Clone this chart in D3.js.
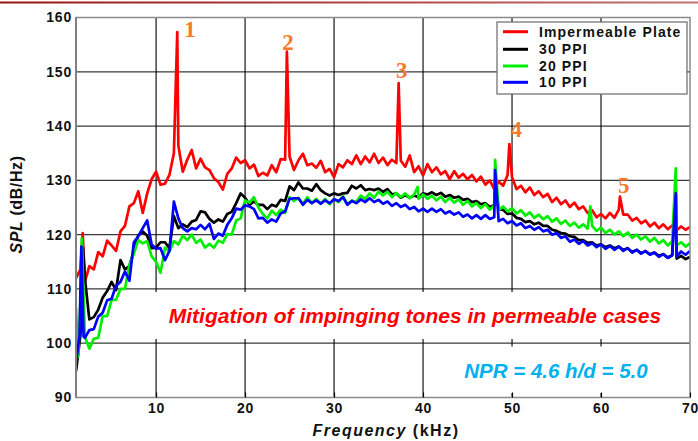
<!DOCTYPE html>
<html><head><meta charset="utf-8">
<script src="https://cdn.jsdelivr.net/npm/d3@7"></script>
<style>html,body{margin:0;padding:0;background:#fff;overflow:hidden}</style>
</head><body>
<svg id="chart" width="698" height="441"></svg>
<script>
// ---------- DATA ----------
const freqKHz = [
  1,1.5,2,2.5,3,3.5,4,4.5,5,5.5,
  6,6.5,7,7.5,8,8.5,9,9.5,10,10.5,
  11,11.5,12,12.5,13,13.5,14,14.5,15,15.5,
  16,16.5,17,17.5,18,18.5,19,19.5,20,20.5,
  21,21.5,22,22.5,23,23.5,24,24.5,25,25.5,
  26,26.5,27,27.5,28,28.5,29,29.5,30,30.5,
  31,31.5,32,32.5,33,33.5,34,34.5,35,35.5,
  36,36.5,37,37.5,38,38.5,39,39.5,40,40.5,
  41,41.5,42,42.5,43,43.5,44,44.5,45,45.5,
  46,46.5,47,47.5,48,48.5,49,49.5,50,50.5,
  51,51.5,52,52.5,53,53.5,54,54.5,55,55.5,
  56,56.5,57,57.5,58,58.5,59,59.5,60,60.5,
  61,61.5,62,62.5,63,63.5,64,64.5,65,65.5,
  66,66.5,67,67.5,68,68.5,69,69.5,70
];
const impermeablePlate = [
  112.0,113.6,111.3,114.2,113.6,116.8,116.0,118.9,118.0,117.0,
  120.6,121.6,125.2,125.8,128.0,124.0,127.6,130.2,131.6,129.2,
  129.4,131.0,135.0,136.4,131.6,133.8,135.6,132.2,134.0,132.4,
  131.9,130.4,129.7,128.3,131.2,132.2,134.2,133.2,133.7,132.2,
  132.9,130.8,131.4,130.9,132.8,131.5,133.9,133.8,134.4,131.9,
  133.7,134.9,132.8,133.1,132.3,133.6,131.5,132.1,130.6,133.0,
  132.4,133.7,133.0,134.6,133.0,134.4,133.3,134.9,133.2,134.2,
  132.8,133.8,133.2,133.6,132.5,134.6,131.5,132.6,130.9,133.0,
  131.5,132.4,131.1,131.7,130.2,131.7,130.5,131.2,130.2,131.0,
  129.8,130.7,129.2,130.0,128.4,129.8,129.0,131.0,130.6,128.4,
  129.0,127.8,128.7,127.3,128.0,126.9,127.5,126.0,126.8,125.6,
  126.3,125.1,125.9,124.7,125.2,124.0,124.5,123.2,123.8,123.0,
  124.0,123.1,124.6,123.7,123.7,122.6,123.1,122.1,122.6,121.5,
  122.2,121.2,121.9,121.0,121.7,120.8,121.5,120.9,121.4
];
const impermeableTones = [[1.75,120.3],[12.38,157.3],[24.7,153.7],[37.26,147.9],[49.7,136.7],[62.13,127.0]];

const ppi30 = [
  94.8,101.5,112.0,104.4,104.8,106.2,108.4,109.6,111.3,109.8,
  115.3,113.6,114.2,117.0,119.9,120.6,119.8,117.5,117.6,118.6,
  118.6,117.5,123.4,121.2,121.9,121.4,122.4,122.7,124.3,124.1,
  122.9,122.2,122.8,122.4,123.8,124.2,125.8,127.6,126.8,125.5,
  126.1,125.5,125.5,124.7,125.5,125.2,126.4,126.2,128.9,128.2,
  129.6,128.5,128.5,128.1,129.3,128.2,127.6,127.2,127.6,127.3,
  127.6,127.7,129.0,128.5,129.1,128.2,128.4,128.2,128.5,127.9,
  128.4,127.4,127.6,126.8,127.3,126.8,127.2,126.9,127.6,127.4,
  127.8,127.3,127.7,127.0,127.3,126.8,127.0,126.4,126.6,126.0,
  126.2,125.6,125.8,125.1,125.4,124.6,124.6,123.8,123.9,123.1,
  122.9,122.3,122.5,121.9,122.2,121.6,121.6,120.9,120.7,120.3,
  120.2,119.7,119.6,119.0,119.0,118.5,118.6,118.0,118.2,117.7,
  118.0,117.5,117.8,117.2,117.5,116.8,117.2,116.6,116.9,116.4,
  116.7,116.1,116.4,115.8,116.2,115.6,116.1,115.5,115.9
];
const ppi30Tones = [[1.8,117.5],[48.1,130.0],[68.4,129.0]];

const ppi20 = [
  106.5,108.0,101.2,99.0,100.8,101.0,105.0,105.0,108.0,108.0,
  110.0,110.0,114.5,116.5,119.0,118.4,118.8,116.0,115.0,113.0,
  117.6,116.9,118.8,118.2,119.8,119.0,120.0,118.5,119.1,117.6,
  118.3,117.6,118.9,118.5,120.1,120.0,122.6,123.0,126.3,125.9,
  126.9,125.0,123.8,123.0,124.4,123.6,124.6,124.0,126.9,126.2,
  126.8,125.7,126.9,125.8,126.6,125.7,126.6,125.6,126.6,126.0,
  127.1,125.6,126.3,126.0,127.2,126.6,127.6,126.8,127.9,127.2,
  127.9,126.9,127.7,126.9,127.6,126.7,127.4,126.6,127.4,126.6,
  127.2,126.3,127.0,126.0,126.8,125.9,126.5,125.5,126.2,125.2,
  125.8,124.9,125.6,124.6,125.4,124.5,125.2,124.3,124.9,123.9,
  124.5,123.5,124.1,123.1,123.7,122.8,123.4,122.4,123.0,122.0,
  122.6,121.6,122.2,121.3,121.9,121.1,121.6,120.7,121.3,120.3,
  120.9,120.0,120.6,119.7,120.4,119.4,120.0,119.1,119.7,118.7,
  119.4,118.4,119.0,118.0,118.8,118.0,118.6,117.8,118.4
];
const ppi20Tones = [[1.25,97.5],[1.65,119.3],[39.4,128.8],[48.1,133.8],[58.8,125.2],[68.4,132.2]];

const ppi10 = [
  96.3,110.0,101.0,102.4,102.6,104.9,105.6,107.9,108.2,110.6,
  111.3,113.2,111.5,118.6,119.7,121.2,122.6,118.2,117.4,117.5,
  115.3,117.0,126.1,123.0,121.2,120.6,121.2,121.0,121.8,121.0,
  122.0,119.2,120.2,119.8,121.8,123.0,124.8,124.6,125.4,125.2,
  124.7,123.0,123.1,122.2,122.8,122.4,123.9,124.3,126.6,126.7,
  126.7,125.5,126.4,125.8,126.3,125.7,126.3,125.8,126.5,126.2,
  126.9,125.5,126.2,125.8,126.5,126.0,126.7,126.0,126.4,125.7,
  126.1,125.3,125.8,125.1,125.5,124.7,125.1,124.3,124.8,124.2,
  124.8,124.2,124.7,123.9,124.3,123.7,124.1,123.3,123.7,123.0,
  123.6,122.9,123.6,122.9,123.2,122.5,122.9,122.1,122.5,121.7,
  122.1,121.2,121.6,120.9,121.4,120.6,120.9,120.0,120.3,119.4,
  119.7,118.7,119.1,118.3,118.8,118.0,118.4,117.7,118.2,117.4,
  117.9,117.2,117.8,117.0,117.5,116.7,117.2,116.5,117.0,116.3,
  116.7,115.9,116.4,115.7,116.2,116.0,116.9,116.3,117.0
];
const ppi10Tones = [[1.4,101.5],[1.6,117.8],[1.85,101.2],[48.1,131.9],[68.4,127.6]];

const seriesNames = ["Impermeable Plate","30 PPI","20 PPI","10 PPI"];
const seriesColors = ["#ff0000","#000000","#00ee00","#0000ff"];
const xTicks = [10,20,30,40,50,60,70];
const yTicks = [90,100,110,120,130,140,150,160];
const toneLabels = ["1","2","3","4","5"];
const toneLabelF = [13.81,24.82,37.6,50.48,62.55];
const toneLabelV = [156.5,154.0,148.8,138.0,127.7];

// ---------- CHART ----------
const svg = d3.select("#chart");
const W = 698, H = 441;
const L = 76, R = 690, T = 17.5, B = 397.5;
const x = d3.scaleLinear().domain([1,70]).range([L,R]);
const y = d3.scaleLinear().domain([90,160]).range([B,T]);
const font = "'Liberation Sans', Arial, sans-serif";

svg.append("rect").attr("width",W).attr("height",H).attr("fill","#fff");

// top decorative rule
const defs = svg.append("defs");
const grad = defs.append("linearGradient").attr("id","topRule").attr("x1","0").attr("x2","1");
grad.append("stop").attr("offset","0").attr("stop-color","#961414");
grad.append("stop").attr("offset","1").attr("stop-color","#c27272");
svg.append("rect").attr("x",0).attr("y",1.5).attr("width",W).attr("height",2).attr("fill","url(#topRule)");

defs.append("clipPath").attr("id","plotClip").append("rect")
  .attr("x",L).attr("y",T).attr("width",R-L).attr("height",B-T);

// grid
const grid = svg.append("g");
grid.selectAll("line.h").data(yTicks.filter(v=>v>90&&v<160)).join("line")
  .attr("x1",L).attr("x2",R).attr("y1",d=>y(d)).attr("y2",d=>y(d))
  .attr("stroke","#3a3a3a").attr("stroke-width",1.2);
grid.selectAll("line.v").data(xTicks.filter(v=>v<70)).join("line")
  .attr("x1",d=>x(d)).attr("x2",d=>x(d)).attr("y1",T).attr("y2",B)
  .attr("stroke","#000").attr("stroke-width",1.1);

// white annotation boxes
svg.append("rect").attr("x",146).attr("y",292).attr("width",540).attr("height",47).attr("fill","#fff");
svg.append("rect").attr("x",445).attr("y",346.5).attr("width",241).attr("height",46.5).attr("fill","#fff");

// series
function mergeSeries(vals, extra){
  const pts = freqKHz.map((f,i)=>[f, vals[i]]).concat(extra);
  pts.sort((a,b)=>a[0]-b[0]);
  return pts;
}
const allSeries = [
  mergeSeries(impermeablePlate, impermeableTones),
  mergeSeries(ppi30, ppi30Tones),
  mergeSeries(ppi20, ppi20Tones),
  mergeSeries(ppi10, ppi10Tones)
];
const line = d3.line().x(d=>x(d[0])).y(d=>y(d[1]));
const lines = svg.append("g").attr("clip-path","url(#plotClip)");
allSeries.forEach((s,i)=>{
  lines.append("path").datum(s).attr("d",line).attr("fill","none")
    .attr("stroke",seriesColors[i]).attr("stroke-width",2.7)
    .attr("stroke-linejoin","round");
});

// frame
svg.append("rect").attr("x",L).attr("y",T).attr("width",R-L).attr("height",B-T)
  .attr("fill","none").attr("stroke","#8a8a8a").attr("stroke-width",1.5);
svg.append("line").attr("x1",L).attr("x2",L).attr("y1",T).attr("y2",B)
  .attr("stroke","#808080").attr("stroke-width",2);

// axes
const xAxis = svg.append("g").attr("transform",`translate(0,${B})`)
  .call(d3.axisBottom(x).tickValues(xTicks).tickSizeInner(-5).tickSizeOuter(0).tickPadding(5.5));
xAxis.select(".domain").remove();
xAxis.selectAll(".tick line").attr("stroke","#000").attr("stroke-width",1.1);
xAxis.selectAll("text").attr("font-family",font).attr("font-size",14).attr("font-weight","bold")
  .attr("fill","#111").style("letter-spacing","0.8px");

const yAxis = svg.append("g").attr("transform",`translate(${L},0)`)
  .call(d3.axisLeft(y).tickValues(yTicks).tickSize(0).tickPadding(4));
yAxis.select(".domain").remove();
yAxis.selectAll("text").attr("font-family",font).attr("font-size",14).attr("font-weight","bold")
  .attr("fill","#111").style("letter-spacing","0.8px");

// axis titles
const yt = svg.append("text").attr("transform","translate(22,204.5) rotate(-90)")
  .attr("text-anchor","middle").attr("font-family",font).attr("font-size",16)
  .attr("font-weight","bold").attr("fill","#111").style("letter-spacing","0.6px");
yt.append("tspan").attr("font-style","italic").text("SPL");
yt.append("tspan").text(" (dB/Hz)");

const xt = svg.append("text").attr("x",386).attr("y",436)
  .attr("text-anchor","middle").attr("font-family",font).attr("font-size",16)
  .attr("font-weight","bold").attr("fill","#111").style("letter-spacing","1.5px");
xt.append("tspan").attr("font-style","italic").text("Frequency");
xt.append("tspan").text(" (kHz)");

// annotations
svg.append("text").attr("x",415).attr("y",323).attr("text-anchor","middle")
  .attr("font-family",font).attr("font-size",21).attr("font-weight","bold")
  .attr("font-style","italic").attr("fill","#ff0000")
  .text("Mitigation of impinging tones in permeable cases");
svg.append("text").attr("x",556).attr("y",378).attr("text-anchor","middle")
  .attr("font-family",font).attr("font-size",20.5).attr("font-weight","bold")
  .attr("font-style","italic").attr("fill","#00b0f0")
  .text("NPR = 4.6 h/d = 5.0");

svg.append("g").selectAll("text").data(toneLabels).join("text")
  .attr("x",(d,i)=>x(toneLabelF[i])).attr("y",(d,i)=>y(toneLabelV[i]))
  .attr("text-anchor","middle").attr("font-family","'Liberation Serif', 'Times New Roman', serif")
  .attr("font-size",23).attr("font-weight","bold").attr("fill","#f47b2a").text(d=>d);

// legend
const lg = svg.append("g");
lg.append("rect").attr("x",497).attr("y",22).attr("width",190).attr("height",72)
  .attr("fill","#fff").attr("stroke","#6a6a6a").attr("stroke-width",1.2);
const rowY = [31.7,49.3,66,82.3];
seriesNames.forEach((n,i)=>{
  lg.append("line").attr("x1",503).attr("x2",528).attr("y1",rowY[i]).attr("y2",rowY[i])
    .attr("stroke",seriesColors[i]).attr("stroke-width",3);
  lg.append("text").attr("x",539).attr("y",rowY[i]+5).attr("font-family",font)
    .attr("font-size",14).attr("font-weight","bold").attr("fill","#111")
    .style("letter-spacing","1.1px").text(n);
});
</script>
</body></html>
